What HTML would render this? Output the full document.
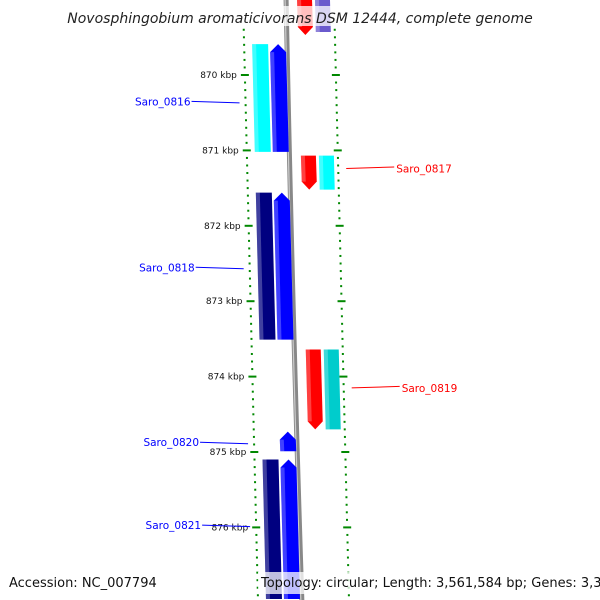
<!DOCTYPE html>
<html><head><meta charset="utf-8"><style>
body{margin:0;background:#fff}
svg{display:block;font-family:"DejaVu Sans","Liberation Sans",sans-serif}
</style></head><body>
<svg id="map" width="600" height="600" viewBox="0 0 600 600" xmlns="http://www.w3.org/2000/svg">
<g id="ticks"></g>
<path d="M286,-5 Q292,300 302,605" stroke="#888" stroke-width="5" fill="none"/>
<path d="M285,-5 Q291,300 301,605" stroke="#ccc" stroke-width="1.2" fill="none"/>
<g id="genes"></g>
<g id="labels"></g>
<rect x="70" y="6" width="460" height="20" fill="#fff" opacity="0.75"/>
<text x="300" y="23" text-anchor="middle" font-size="14" font-style="italic" fill="#222">Novosphingobium aromaticivorans DSM 12444, complete genome</text>
<rect x="258" y="572" width="335" height="22" fill="#fff" opacity="0.75"/>
<text x="9" y="587" font-size="13" fill="#111">Accession: NC_007794</text>
<text x="261" y="587" font-size="13" fill="#111">Topology: circular; Length: 3,561,584 bp; Genes: 3,397</text>
</svg>
<script>
const tickKbp=[870,871,872,873,874,875,876];
const tickLabels=["870 kbp","871 kbp","872 kbp","873 kbp","874 kbp","875 kbp","876 kbp"];
const geneStart=[868.9,868.9,869.59,869.59,871.07,871.07,871.56,871.56,873.64,873.64,874.73,875.10,875.10];
const geneEnd=[869.47,869.43,871.02,871.02,871.52,871.52,873.51,873.51,874.70,874.70,874.99,876.95,876.95];
const geneTrack=[1,2,-2,-1,1,2,-2,-1,1,2,-1,-2,-1];
const geneArrow=[true,false,false,true,true,false,false,true,true,false,true,false,true];
const geneColor=["#ff0000","#6a5acd","#00ffff","#0000ff","#ff0000","#00ffff","#000080","#0000ff","#ff0000","#00cccc","#0000ff","#000080","#0000ff"];
const labelNames=["Saro_0816","Saro_0817","Saro_0818","Saro_0819","Saro_0820","Saro_0821"];
const labelKbp=[870.35,871.24,872.55,874.15,874.87,875.97];
const labelSide=[-1,1,-1,1,-1,-1];
const NS="http://www.w3.org/2000/svg";
const yOf=k=>75+(k-870)*75.4;
const bx=y=>287+y*0.025;
function mk(tag,attrs,parent){const e=document.createElementNS(NS,tag);for(const a in attrs)e.setAttribute(a,attrs[a]);parent.appendChild(e);return e;}
const tg=document.getElementById('ticks');
for(let k=869.4;k<=877.01;k+=0.1){
  const y=yOf(k);const major=Math.abs(k-Math.round(k))<0.01;
  const l=mk('line',{x1:bx(y)-(major?48:45),x2:bx(y)-(major?40:43),y1:y,y2:y,stroke:'#080',"stroke-width":2},tg);
  
  
  const r=mk('line',{x1:bx(y)+(major?43:46),x2:bx(y)+(major?51:48),y1:y,y2:y,stroke:'#080',"stroke-width":2},tg);
  
  
}
tickKbp.forEach((k,i)=>{const y=yOf(k);
  const t=mk('text',{x:bx(y)-52,y:y+3,"text-anchor":"end","font-size":9,fill:'#111'},tg);t.textContent=tickLabels[i];
  
  
});
const gg=document.getElementById('genes');
const off={1:[10,25],2:[28,43],'-1':[-18,-2],'-2':[-36,-20]};
geneStart.forEach((s,i)=>{
  const y1=yOf(s),y2=yOf(geneEnd[i]);const [a,b]=off[geneTrack[i]];
  const t1=bx(y1),t2=bx(y2);let pts;
  const rev=geneTrack[i]>0;
  if(!geneArrow[i]) pts=[[t1+a,y1],[t1+b,y1],[t2+b,y2],[t2+a,y2]];
  else if(rev) pts=[[t1+a,y1],[t1+b,y1],[t2+b,y2-8],[(t2+a+t2+b)/2,y2],[t2+a,y2-8]];
  else pts=[[(t1+a+t1+b)/2,y1],[t1+b,y1+8],[t2+b,y2],[t2+a,y2],[t1+a,y1+8]];
  const p=mk('polygon',{points:pts.map(q=>q.join(',')).join(' '),fill:geneColor[i]},gg);
  
  
  const h=mk('polygon',{points:[[t1+a,y1+(geneArrow[i]&&!rev?8:0)],[t1+a+4,y1+(geneArrow[i]&&!rev?8:0)],[t2+a+4,y2-(geneArrow[i]&&rev?8:0)],[t2+a,y2-(geneArrow[i]&&rev?8:0)]].map(q=>q.join(',')).join(' '),fill:'#fff',opacity:0.25},gg);
  
  
});
const lg=document.getElementById('labels');
labelNames.forEach((n,i)=>{const y=yOf(labelKbp[i]);const c=labelSide[i]<0?'#0000ff':'#ff0000';
  let x1,x2,tx,anc;
  if(labelSide[i]<0){x2=bx(y)-50;x1=x2-48;tx=x1-1;anc='end';}else{x1=bx(y)+55;x2=x1+48;tx=x2+2;anc='start';}
  const l=mk('line',{x1:x1,x2:x2,y1:y,y2:y-1.5*labelSide[i],stroke:c,"stroke-width":1},lg);
  
  
  const t=mk('text',{x:tx,y:y+4,"text-anchor":anc,"font-size":10.5,fill:c},lg);t.textContent=n;
  
  
});
</script>
</body></html>
